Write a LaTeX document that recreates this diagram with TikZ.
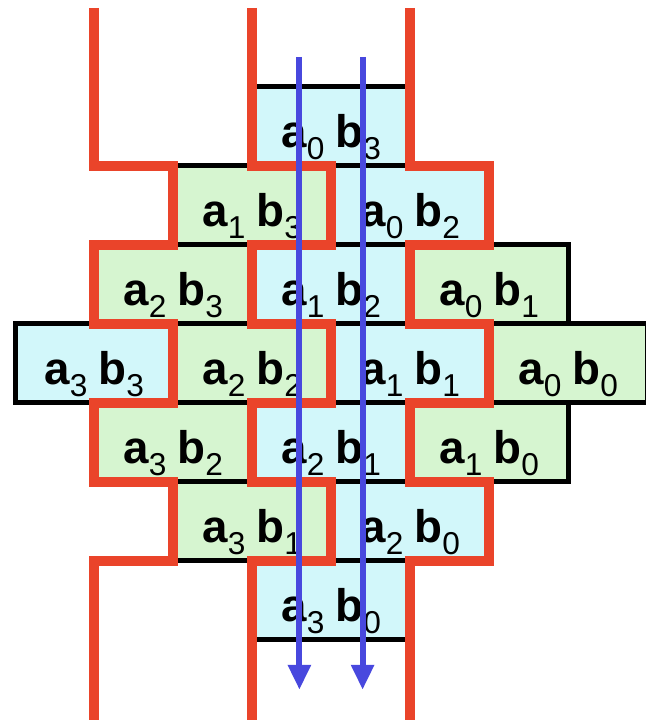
\documentclass[tikz,border=0pt]{standalone}
\usepackage{fontspec}
\setmainfont{Liberation Sans}
\usetikzlibrary{arrows.meta}
\definecolor{cellcyan}{RGB}{210,247,250}
\definecolor{cellgreen}{RGB}{214,245,208}
\definecolor{wallred}{RGB}{234,68,42}
\definecolor{flowblue}{RGB}{72,72,222}
\newcommand\ab[2]{\textbf{a}\raisebox{-1.2mm}{\fontsize{9}{10}\selectfont#1}%
  \hspace{1.1mm}\textbf{b}\raisebox{-1.2mm}{\fontsize{9}{10}\selectfont#2}}
\tikzset{
  cell/.style={draw=black,line width=.5mm,minimum width=15.8mm,minimum height=7.9mm,
    inner sep=0pt,outer sep=0pt,text height=5.4mm,text depth=1.2mm,
    font=\fontsize{13}{15}\selectfont},
  cy/.style={cell,fill=cellcyan},
  gr/.style={cell,fill=cellgreen},
  wall/.style={draw=wallred,line width=1.05mm,line join=miter},
  flow/.style={draw=flowblue,line width=.6mm,-{Triangle[width=2.2mm,length=2.5mm]}}
}
\begin{document}
\begin{tikzpicture}[x=7.9mm,y=7.9mm]
\useasboundingbox (-0.19,-8.013) rectangle (7.975,1.101);
% partial products
\node[cy] (c03) at (4,-0.5) {\ab{0}{3}};
\node[gr] (c13) at (3,-1.5) {\ab{1}{3}};
\node[cy] (c02) at (5,-1.5) {\ab{0}{2}};
\node[gr] (c23) at (2,-2.5) {\ab{2}{3}};
\node[cy] (c12) at (4,-2.5) {\ab{1}{2}};
\node[gr] (c01) at (6,-2.5) {\ab{0}{1}};
\node[cy] (c33) at (1,-3.5) {\ab{3}{3}};
\node[gr] (c22) at (3,-3.5) {\ab{2}{2}};
\node[cy] (c11) at (5,-3.5) {\ab{1}{1}};
\node[gr] (c00) at (7,-3.5) {\ab{0}{0}};
\node[gr] (c32) at (2,-4.5) {\ab{3}{2}};
\node[cy] (c21) at (4,-4.5) {\ab{2}{1}};
\node[gr] (c10) at (6,-4.5) {\ab{1}{0}};
\node[gr] (c31) at (3,-5.5) {\ab{3}{1}};
\node[cy] (c20) at (5,-5.5) {\ab{2}{0}};
\node[cy] (c30) at (4,-6.5) {\ab{3}{0}};
% zigzag borders
\draw[wall] (1,1)--(1,-1)--(2,-1)--(2,-2)--(1,-2)--(1,-3)--(2,-3)--(2,-4)
  --(1,-4)--(1,-5)--(2,-5)--(2,-6)--(1,-6)--(1,-8.2);
\draw[wall] (3,1)--(3,-1)--(4,-1)--(4,-2)--(3,-2)--(3,-3)--(4,-3)--(4,-4)
  --(3,-4)--(3,-5)--(4,-5)--(4,-6)--(3,-6)--(3,-8.2);
\draw[wall] (5,1)--(5,-1)--(6,-1)--(6,-2)--(5,-2)--(5,-3)--(6,-3)--(6,-4)
  --(5,-4)--(5,-5)--(6,-5)--(6,-6)--(5,-6)--(5,-8.2);
% arrows
\coordinate (s1) at (3.6,0.38);
\coordinate (e1) at (3.6,-7.63);
\coordinate (s2) at (4.4,0.38);
\coordinate (e2) at (4.4,-7.63);
\draw[flow] (s1)--(e1);
\draw[flow] (s2)--(e2);
\end{tikzpicture}
\end{document}
